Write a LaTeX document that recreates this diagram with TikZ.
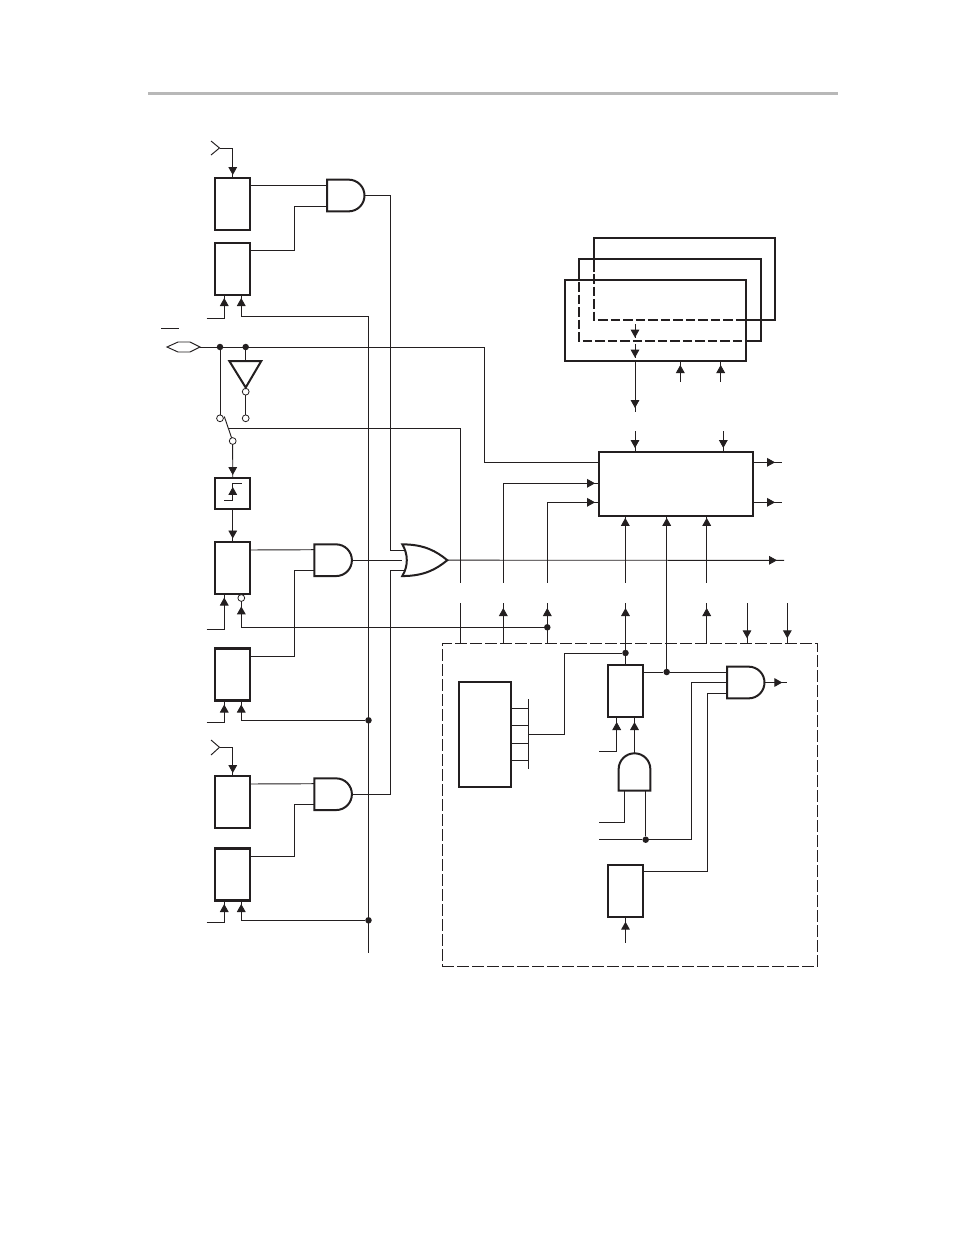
\documentclass[tikz,border=0pt]{standalone}
\usetikzlibrary{arrows.meta,decorations.markings}
\definecolor{ink}{HTML}{231F20}
\tikzset{
  wire/.style={color=ink,line width=0.95pt},
  heavy/.style={color=ink,line width=2pt},
  tipat/.style={postaction={decorate},decoration={markings,mark=at position #1 with {\arrow{Triangle[width=8.7pt,length=8pt]}}}},
  regbox/.style={draw=ink,line width=2.1pt,rectangle,inner sep=0pt,outer sep=0pt,minimum width=35pt,minimum height=52pt},
  gatebox/.style={rectangle,inner sep=0pt,outer sep=0pt,minimum width=37.5pt,minimum height=31.7pt},
  junction/.style={circle,fill=ink,inner sep=0pt,outer sep=0pt,minimum size=6.5pt},
  bubble/.style={circle,draw=ink,fill=white,line width=0.8pt,inner sep=0pt,outer sep=0pt,minimum size=6.8pt},
  dashbox/.style={draw=ink,line width=0.95pt,dash pattern=on 12pt off 3pt,rectangle,inner sep=0pt,outer sep=0pt}
}
\newcommand{\andgate}[3]{
  \node[gatebox] (#1) at (#2,#3) {};
  \draw[heavy] (#1.north west) -- ++(21.65,0) .. controls +(8.8,0) and +(0,-8.75) .. ++(15.85,15.85) .. controls +(0,8.75) and +(8.8,0) .. ++(-15.85,15.85) -- (#1.south west) -- cycle;
  \coordinate (#1i1) at ([yshift=10.5pt]#1.west);
  \coordinate (#1i2) at (#1.west);
  \coordinate (#1i3) at ([yshift=-10.5pt]#1.west);
}
\begin{document}
\begin{tikzpicture}[x=1pt,y=-1pt]
\useasboundingbox (0,0) rectangle (954,1235);

\draw[color=black!28,line width=3pt] (148,93) -- (838,93);

\node[dashbox,minimum width=375.4pt,minimum height=323.4pt] (ctl) at (630,805) {};

\node[regbox] (boxa) at (232.75,204) {};
\node[regbox] (boxb) at (232.75,269) {};
\node[regbox,minimum height=31pt] (schmitt) at (232.75,493.5) {};
\node[regbox] (boxc) at (232.75,568) {};
\node[regbox] (boxd) at (232.75,674.5) {};
\node[regbox] (boxe) at (232.75,802) {};
\node[regbox] (boxf) at (232.75,874.5) {};
\node[regbox] (boxg) at (625.5,691) {};
\node[regbox] (boxh) at (625.5,890.7) {};
\node[regbox,minimum width=52.3pt,minimum height=105pt] (mem) at (485.2,734.2) {};
\node[regbox,line width=2.3pt,minimum width=153.4pt,minimum height=64pt] (core) at (676,483.7) {};

\draw[heavy] (594,272) -- (594,238.3) -- (775,238.3) -- (775,319.7) -- (746,319.7);
\draw[heavy,dash pattern=on 9.5pt off 3pt] (594,274) -- (594,319.7) -- (746,319.7);
\draw[heavy] (579.3,280) -- (579.3,258.7) -- (760.7,258.7) -- (760.7,341) -- (746,341);
\draw[heavy,dash pattern=on 9.5pt off 3pt] (579.3,282) -- (579.3,341) -- (746,341);
\node[regbox,minimum width=181pt,minimum height=81pt] (front) at (655.5,320.5) {};

\andgate{anda}{345.75}{195.5}
\andgate{andb}{333.15}{560.2}
\andgate{andc}{333.15}{794.2}
\andgate{andd}{745.75}{682.5}

\node[gatebox,minimum width=31.7pt,minimum height=37.4pt] (ande) at (634.5,772) {};
\draw[heavy] (ande.south west) -- ++(0,-21.55) .. controls +(0,-8.75) and +(-8.75,0) .. ++(15.85,-15.85) .. controls +(8.75,0) and +(0,-8.75) .. ++(15.85,15.85) -- (ande.south east) -- cycle;

\node[rectangle,inner sep=0pt,outer sep=0pt,minimum width=45pt,minimum height=31.7pt] (orgate) at (424.8,560.2) {};
\draw[heavy] (orgate.north west) .. controls +(22,0) and +(-11,-9) .. (orgate.east) .. controls +(-11,9) and +(22,0) .. (orgate.south west) .. controls +(6,-10) and +(6,10) .. cycle;
\coordinate (orgatei1) at (406,550);
\coordinate (orgatei2) at (406,570.5);

\node[junction] (dsw) at (220,347) {};
\node[junction] (dinv) at (245.7,347) {};
\node[junction] (dclr) at (547.3,627.3) {};
\node[junction] (dtrunka) at (368.5,720.3) {};
\node[junction] (dtrunkb) at (368.5,920.3) {};
\node[junction] (dbus) at (625.5,653) {};
\node[junction] (dout) at (666.7,672) {};
\node[junction] (dmid) at (645.7,839.7) {};

\node[bubble] (bubinv) at (245.7,391.7) {};
\node[bubble] (bubnc) at (245.7,418.3) {};
\node[bubble] (bubno) at (220,418.3) {};
\node[bubble] (swc) at (232.7,441) {};
\node[bubble] (bubc) at (241.3,598) {};

\coordinate (anta) at (219.5,148);
\coordinate (antb) at (219.5,747.3);
\draw[wire] (211,141) -- (anta) -- (211,155);
\draw[wire] (211,740) -- (antb) -- (211,755);
\draw[wire,tipat=-3pt] (anta) -| (boxa.north);
\draw[wire,tipat=-3pt] (antb) -| (boxe.north);

\draw[wire] ([yshift=-7pt]boxa.north east) -- (andai1);
\draw[wire] ([yshift=-7pt]boxb.north east) -- ++(44.7,0) |- (andai3);
\draw[wire] ([yshift=-8pt]boxc.north east) -- (andbi1);
\draw[wire] ([yshift=-8pt]boxd.north east) -- ++(44.7,0) |- (andbi3);
\draw[wire] ([yshift=-8pt]boxe.north east) -- (andci1);
\draw[wire] ([yshift=-8pt]boxf.north east) -- ++(44.7,0) |- (andci3);

\coordinate (trunktop) at (368.5,316);
\coordinate (trunkbot) at (368.5,952.7);
\draw[wire] (trunktop) -- (trunkbot);
\coordinate (inb) at (206.7,318);
\coordinate (inc) at (206.7,629.3);
\coordinate (ind) at (206.7,722.3);
\coordinate (inf) at (206.7,922.3);
\draw[wire,tipat=-3pt] (inb) -| ([xshift=-8.5pt]boxb.south);
\draw[wire,tipat=-3pt] (trunktop) -| ([xshift=8.5pt]boxb.south);
\draw[wire,tipat=-3.5pt] (inc) -| ([xshift=-8.5pt]boxc.south);
\draw[wire,tipat=-5pt] (dclr) -| (bubc.south);
\draw[wire,tipat=-4pt] (ind) -| ([xshift=-8.5pt]boxd.south);
\draw[wire,tipat=-4pt] (dtrunka) -| ([xshift=8.5pt]boxd.south);
\draw[wire,tipat=-3.5pt] (inf) -| ([xshift=-8.5pt]boxf.south);
\draw[wire,tipat=-3.5pt] (dtrunkb) -| ([xshift=8.5pt]boxf.south);

\draw[wire] (anda.east) -- ++(25.5,0) |- (orgatei1);
\draw[wire] (andc.east) -- ++(38.4,0) |- (orgatei2);
\draw[wire] (andb.east) -- (orgate.west);

\draw[wire] (161,328) -- (179,328);
\coordinate (hexr) at (200,347);
\draw[wire] (hexr) -- (190,342) -- (178,342) -- (167,347) -- (178,352) -- (190,352) -- cycle;
\draw[wire] (hexr) -- ++(284,0) |- ([yshift=21.4pt]core.west);

\draw[wire] (dsw) -- (bubno.north);
\draw[heavy] (229.3,361) -- (261.3,361) -- (245.7,387.5) -- cycle;
\draw[wire] (dinv) -- (245.7,361);
\draw[wire] (bubinv.south) -- (bubnc.north);
\draw[wire] (224.3,416.5) -- (swc);
\draw[wire,tipat=-3pt] (swc.south) -- (schmitt.north);
\draw[wire,tipat=-3.5pt] (schmitt.south) -- (boxc.north);
\draw[wire,tipat=-12.4pt] ([shift={(-8.75pt,-6.5pt)}]schmitt.center) -- ++(8.75,0) |- ++(8.75,-16.7);

\coordinate (swtap) at (228.4,428.3);
\coordinate (colaup) at (460.7,582.7);
\coordinate (colalow) at (460.7,603.3);
\coordinate (colbup) at (503.3,582.7);
\coordinate (colblow) at (503.3,603.3);
\coordinate (colcup) at (547.3,582.7);
\coordinate (colclow) at (547.3,603.3);
\coordinate (coldup) at (625.3,582.7);
\coordinate (coldlow) at (625.5,603.3);
\coordinate (colfup) at (706.7,582.7);
\coordinate (colflow) at (706.7,603.3);
\coordinate (colg) at (747,603.3);
\coordinate (colh) at (787.3,603.3);

\draw[wire] (swtap) -| (colaup);
\draw[wire] (colalow) -- (colalow |- ctl.north);
\draw[wire,tipat=-4.3pt] (colbup) |- ([yshift=0.4pt]core.west);
\draw[wire,tipat=-4.3pt] (colcup) |- ([yshift=-18.6pt]core.west);
\draw[wire,tipat=-2.2pt] (coldup) -- (coldup |- core.south);
\draw[wire,tipat=-2.2pt] (dout) -- (dout |- core.south);
\draw[wire,tipat=-2.2pt] (colfup) -- (colfup |- core.south);
\draw[wire,tipat=-4.7pt] (colblow |- ctl.north) -- (colblow);
\draw[wire,tipat=-4.7pt] (colclow |- ctl.north) -- (colclow);
\draw[wire,tipat=-4.7pt] (boxg.north) -- (coldlow);
\draw[wire,tipat=-4.7pt] (colflow |- ctl.north) -- (colflow);
\draw[wire,tipat=-5pt] (colg) -- (colg |- ctl.north);
\draw[wire,tipat=-5pt] (colh) -- (colh |- ctl.north);

\coordinate (coreina) at (635,431);
\coordinate (coreinb) at (723.3,431);
\coordinate (coreouta) at (781.7,462.3);
\coordinate (coreoutb) at (781.7,502.3);
\coordinate (frontout) at (635,412);
\coordinate (frontina) at (680.3,382);
\coordinate (frontinb) at (720.7,382);
\coordinate (hida) at (635,324);
\coordinate (hidb) at (635,344);
\coordinate (orout) at (784,560.3);
\draw[wire,tipat=-3.7pt] (coreina) -- (coreina |- core.north);
\draw[wire,tipat=-3.7pt] (coreinb) -- (coreinb |- core.north);
\draw[wire,tipat=-6.7pt] (coreouta -| core.east) -- (coreouta);
\draw[wire,tipat=-6.7pt] (coreoutb -| core.east) -- (coreoutb);
\draw[wire,tipat=-4pt] (frontout |- front.south) -- (frontout);
\draw[wire,tipat=-4pt] (frontina) -- (frontina |- front.south);
\draw[wire,tipat=-4pt] (frontinb) -- (frontinb |- front.south);
\draw[wire,tipat=-0.1pt] (hida) -- ++(0,13.7);
\draw[wire,tipat=-0.1pt] (hidb) -- ++(0,13.7);
\draw[wire,tipat=-7pt] (orgate.east) -- (orout);

\coordinate (bustop) at (528.3,699);
\coordinate (busbot) at (528.3,769.3);
\coordinate (bustap) at (528.3,734.3);
\draw[wire] (bustop) -- (busbot);
\draw[wire] ([yshift=25.9pt]mem.east) -- ++(17,0);
\draw[wire] ([yshift=8.5pt]mem.east) -- ++(17,0);
\draw[wire] ([yshift=-8.8pt]mem.east) -- ++(17,0);
\draw[wire] ([yshift=-26.1pt]mem.east) -- ++(17,0);
\draw[wire] (bustap) -- ++(36.4,0) |- (dbus);

\coordinate (gouta) at (786.7,682.5);
\coordinate (gina) at (599,751);
\coordinate (ginb) at (599,822.3);
\coordinate (ginc) at (599,839.7);
\coordinate (hin) at (625.5,942.7);
\draw[wire] ([yshift=-7pt]boxg.north east) -- (dout) -- (anddi1);
\draw[wire,tipat=-4.4pt] (andd.east) -- (gouta);
\draw[wire] (ginc) -- (dmid) -- ++(45.6,0) |- (anddi2);
\draw[wire] ([yshift=-7pt]boxh.north east) -- ++(64.7,0) |- (anddi3);
\draw[wire,tipat=-5pt] (ande.north) -- (ande.north |- boxg.south);
\draw[wire,tipat=-5pt] (gina) -| ([xshift=-8.8pt]boxg.south);
\draw[wire] ([xshift=-10.2pt]ande.south) |- (ginb);
\draw[wire] ([xshift=11.2pt]ande.south) -- (dmid);
\draw[wire,tipat=-5pt] (hin) -- (boxh.south);
\end{tikzpicture}
\end{document}
